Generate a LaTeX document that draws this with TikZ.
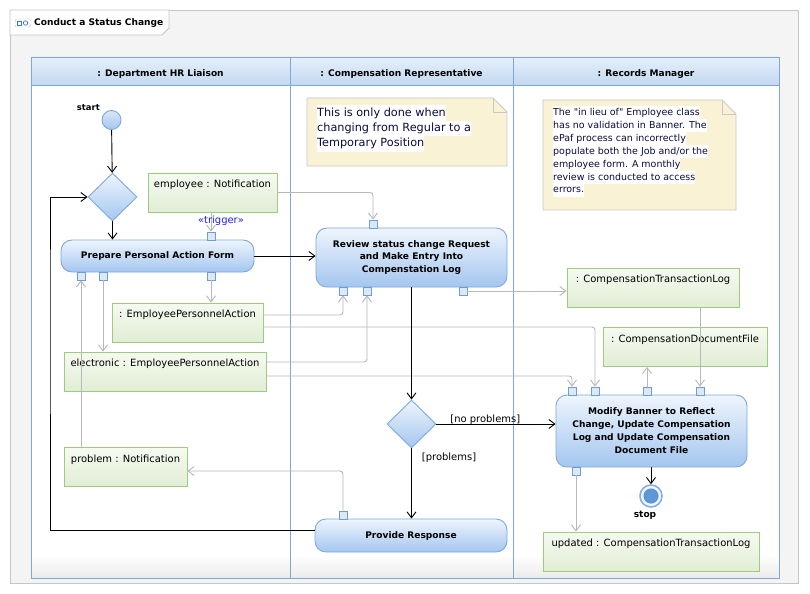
\documentclass[tikz,border=0pt]{standalone}
\usepackage{fontspec}
\setmainfont{DejaVu Sans}[Ligatures=TeXOff]
\usetikzlibrary{shapes.geometric,arrows.meta}

\definecolor{frameline}{HTML}{C6C6C6}
\definecolor{framefill}{HTML}{F4F4F4}
\definecolor{poolline}{HTML}{7EA8DC}
\definecolor{headtop}{HTML}{E6F0FB}
\definecolor{headbot}{HTML}{C3D8F0}
\definecolor{acttop}{HTML}{EEF5FD}
\definecolor{actbot}{HTML}{A4C6EF}
\definecolor{actline}{HTML}{7EA8DC}
\definecolor{objtop}{HTML}{F6FAF1}
\definecolor{objbot}{HTML}{E1EDD5}
\definecolor{objline}{HTML}{9ECB7C}
\definecolor{portfill}{HTML}{DCE8F6}
\definecolor{portline}{HTML}{6E9DD6}
\definecolor{flowgrey}{HTML}{B8B8B8}
\definecolor{notefill}{HTML}{F9F2D5}
\definecolor{noteline}{HTML}{C8C8C8}
\definecolor{notetext}{HTML}{0A0A40}
\definecolor{trigblue}{HTML}{1E1EFF}
\definecolor{stopring}{HTML}{86B1E4}
\definecolor{stopcore}{HTML}{5E97D6}
\definecolor{iconblue}{HTML}{3C78C8}

\newcommand\boldtxt{\fontsize{9.1}{13}\selectfont\bfseries}
\newcommand\plaintxt{\fontsize{10}{12}\selectfont}
\newcommand\hl[1]{{\setlength\fboxsep{0pt}\colorbox{white}{\strut#1}}}

\tikzset{
  flow/.style={draw=black, line width=0.9bp, -{Straight Barb[length=6bp,width=9bp]}},
  objflow/.style={draw=flowgrey, line width=0.9bp, rounded corners=3bp, -{Straight Barb[length=6bp,width=9bp]}},
  action/.style={rectangle, draw=actline, line width=0.9bp, rounded corners=11bp, top color=acttop, bottom color=actbot, font=\boldtxt, align=center, inner sep=0pt},
  decision/.style={diamond, draw=actline, line width=0.9bp, top color=acttop, bottom color=actbot, minimum width=49bp, minimum height=48bp, inner sep=0pt},
  objnode/.style={rectangle, draw=objline, line width=0.9bp, top color=objtop, bottom color=objbot, font=\plaintxt, inner sep=0pt, minimum height=39bp, text height=14.5bp, text depth=24.5bp},
  portbox/.style={rectangle, draw=portline, line width=0.8bp, fill=portfill, minimum size=8bp, inner sep=0pt},
  startnode/.style={circle, minimum size=19bp, inner sep=0pt, draw=actline, line width=0.9bp, top color=acttop!70!actbot, bottom color=actbot},
  stopnode/.style={circle, minimum size=22bp, inner sep=0pt, draw=stopring, line width=1.6bp, fill=white!90!stopring,
    path picture={\fill[stopcore] (path picture bounding box.center) circle (7.6bp);}},
  notepaper/.style={fill=notefill, draw=noteline, line width=0.8bp},
  memo/.style={anchor=north west, inner sep=0pt, align=left, text=notetext},
  lanehead/.style={font=\boldtxt},
  guard/.style={font=\plaintxt, inner sep=1bp}
}

\begin{document}
\begin{tikzpicture}[x=1bp,y=-1bp]
  \useasboundingbox (0,0) rectangle (810,594);
  \fill[white] (0,0) rectangle (810,594);

  % frame and title tab
  \filldraw[fill=framefill, draw=frameline, line width=0.8bp] (10,10) rectangle (798,583);
  \filldraw[fill=white, draw=frameline, line width=0.8bp] (10,10) -- (169,10) -- (169,28) -- (162,35) -- (10,35) -- cycle;
  \draw[iconblue, densely dotted, rounded corners=2bp] (15,19) rectangle (31,27);
  \draw[iconblue, line width=0.7bp] (17.5,21) rectangle (21.5,25);
  \draw[iconblue, line width=0.7bp] (25.5,23) circle (2.2bp);
  \node[font=\boldtxt, anchor=west, inner sep=0pt] (title) at (34,23) {Conduct a Status Change};

  % swimlanes
  \fill[white] (31,57) rectangle (779,578);
  \shade[top color=headtop, bottom color=headbot] (31,57) rectangle (779,85);
  \shade[top color=white, bottom color=black!8] (31,555) rectangle (779,578);
  \draw[poolline, line width=0.9bp] (31,57) rectangle (779,578);
  \draw[poolline, line width=0.9bp] (31,85) -- (779,85) (290,57) -- (290,578) (513,57) -- (513,578);
  \node[lanehead] (laneHR) at (160.5,74) {: Department HR Liaison};
  \node[lanehead] (laneComp) at (401.5,74) {: Compensation Representative};
  \node[lanehead] (laneRec) at (646,74) {: Records Manager};

  % notes
  \filldraw[notepaper] (307,98) -- (493,98) -- (507,112) -- (507,166) -- (307,166) -- cycle;
  \draw[noteline, line width=0.8bp] (493,98) -- (493,112) -- (507,112);
  \node[memo, font=\fontsize{11.3}{15.5}\selectfont] (memo1) at (317,105)
    {\hl{This is only done when}\\\hl{changing from Regular to a}\\\hl{Temporary Position}};
  \filldraw[notepaper] (543,100) -- (722,100) -- (736,114) -- (736,210) -- (543,210) -- cycle;
  \draw[noteline, line width=0.8bp] (722,100) -- (722,114) -- (736,114);
  \node[memo, font=\fontsize{9.5}{13}\selectfont] (memo2) at (553,106)
    {\hl{The "in lieu of" Employee class}\\\hl{has no validation in Banner. The}\\\hl{ePaf process can incorrectly}\\
     \hl{populate both the Job and/or the}\\\hl{employee form. A monthly}\\\hl{review is conducted to access}\\\hl{errors.}};

  % activity nodes
  \node[startnode, label={[font=\fontsize{8.5}{10}\selectfont\bfseries, label distance=0bp]145:start}] (start) at (111.5,120) {};
  \node[decision] (dec1) at (112.5,197) {};
  \node[action, minimum width=193bp, minimum height=32bp] (prep) at (157.5,256) {Prepare Personal Action Form};
  \node[action, minimum width=191bp, minimum height=59bp] (review) at (411.5,257.5)
    {Review status change Request\\and Make Entry Into\\Compenstation Log};
  \node[decision] (dec2) at (411.5,424) {};
  \node[action, minimum width=191bp, minimum height=72bp] (modify) at (651.5,431)
    {Modify Banner to Reflect\\Change, Update Compensation\\Log and Update Compensation\\Document File};
  \node[action, minimum width=192bp, minimum height=33bp] (provide) at (411,535.5) {Provide Response};
  \node[stopnode, label={[font=\boldtxt, xshift=-6bp, label distance=0bp]below:stop}] (stop) at (651,496) {};

  % object nodes
  \node[objnode, minimum width=129bp] (empNote) at (212.5,192.5) {employee : Notification};
  \node[objnode, minimum width=151bp] (empAct) at (187.5,322.5) {: EmployeePersonnelAction};
  \node[objnode, minimum width=202bp] (elecAct) at (165,371.5) {electronic : EmployeePersonnelAction};
  \node[objnode, minimum width=123bp] (probNote) at (125.5,467) {problem : Notification};
  \node[objnode, minimum width=172bp] (ctl) at (653,287.5) {: CompensationTransactionLog};
  \node[objnode, minimum width=164bp] (cdf) at (685,347) {: CompensationDocumentFile};
  \node[objnode, minimum width=216bp] (updLog) at (651,551.5) {updated : CompensationTransactionLog};

  % pins
  \node[portbox] (pTrig) at (211,236) {};
  \node[portbox] (pPrepA) at (81,276) {};
  \node[portbox] (pPrepB) at (103,276) {};
  \node[portbox] (pPrepC) at (211,276) {};
  \node[portbox] (pRevT) at (373,224) {};
  \node[portbox] (pRevA) at (343,291) {};
  \node[portbox] (pRevB) at (367,291) {};
  \node[portbox] (pRevC) at (463,291) {};
  \node[portbox] (pModA) at (572,391) {};
  \node[portbox] (pModB) at (595,391) {};
  \node[portbox] (pModC) at (647,391) {};
  \node[portbox] (pModD) at (700,391) {};
  \node[portbox] (pModE) at (576,471) {};
  \node[portbox] (pResp) at (343,515) {};

  % object flows
  \draw[objflow] (empNote.east) -| (pRevT.north);
  \draw[objflow] (pTrig |- empNote.south) -- (pTrig.north);
  \node[font=\plaintxt, text=trigblue, inner sep=0pt] (trig) at (221,221) {«trigger»};
  \draw[objflow] (pPrepC.south) -- (pPrepC |- empAct.north);
  \draw[objflow] (pPrepB.south) -- (pPrepB |- elecAct.north);
  \draw[objflow] (pPrepA |- probNote.north) -- (pPrepA.south);
  \draw[objflow] ([yshift=7.5bp]empAct.east) -| (pRevA.south);
  \draw[objflow] ([yshift=-4.5bp]empAct.east) -| (pModB.north);
  \draw[objflow] ([yshift=9.5bp]elecAct.east) -| (pRevB.south);
  \draw[objflow] ([yshift=-4.5bp]elecAct.east) -| (pModA.north);
  \draw[objflow] (pRevC.east) -- (pRevC -| ctl.west);
  \draw[objflow] (pModD |- ctl.south) -- (pModD.north);
  \draw[objflow] (pModC.north) -- (pModC |- cdf.south);
  \draw[objflow] (pModE.south) -- (pModE |- updLog.north);
  \draw[objflow] (pResp.north) |- ([yshift=-4bp]probNote.east);

  % control flows
  \coordinate (loopx) at (50,300);
  \draw[flow] (start) -- (dec1);
  \draw[flow] (dec1) -- (dec1 |- prep.north);
  \draw[flow] (prep.east) -- (prep.east -| review.west);
  \draw[flow] (review) -- (dec2);
  \draw[flow] (dec2.east) -- (dec2.east -| modify.west) node[guard, pos=0.41, yshift=4bp] {[no problems]};
  \draw[flow] (dec2.south) -- (dec2.south |- provide.north) node[guard, pos=0.13, anchor=west, xshift=9bp] {[problems]};
  \draw[flow] (stop |- modify.south) -- (stop);
  \draw[flow] ([yshift=5.5bp]provide.west) -| (loopx) |- (dec1.west);
\end{tikzpicture}
\end{document}
